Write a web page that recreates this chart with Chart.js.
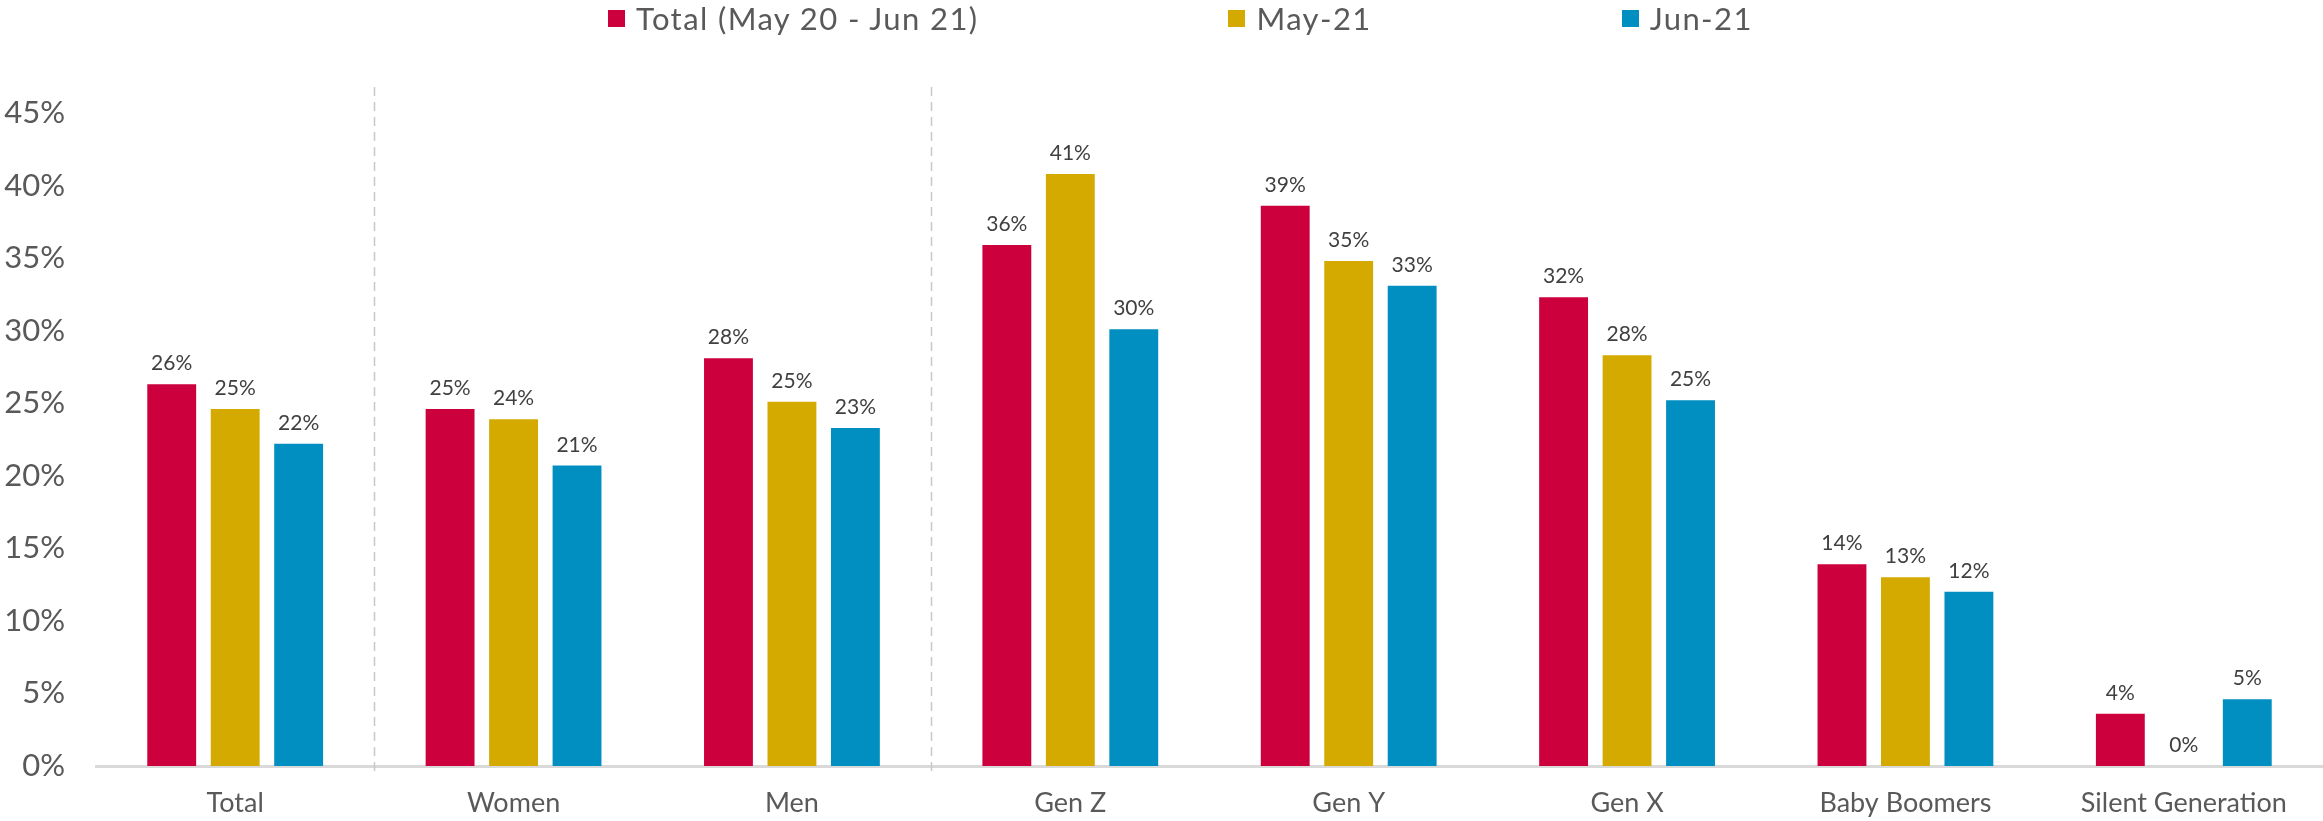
<!DOCTYPE html>
<html>
<head>
<meta charset="utf-8">
<script src="https://cdn.jsdelivr.net/npm/chart.js@4.4.1/dist/chart.umd.min.js"></script>
<style>
  html, body { margin: 0; padding: 0; background: #fff; }
  #wrap { position: relative; width: 2323px; height: 821px; }
  #legend { position: absolute; top: 0; left: 608px; display: flex; gap: 250px;
            font-family: Lato, sans-serif; font-size: 31px; letter-spacing: 1.4px; color: #595959; }
  .item { display: flex; align-items: center; height: 36px; white-space: nowrap; }
  .swatch { width: 17px; height: 17px; margin-right: 11px; }
  canvas { display: block; }
</style>
</head>
<body>
<div id="wrap">
  <canvas id="grafico" width="2323" height="821"></canvas>
  <div id="legend"></div>
</div>
<script>
// datos (en %)
var categories = ['Total', 'Women', 'Men', 'Gen Z', 'Gen Y', 'Gen X', 'Baby Boomers', 'Silent Generation'];
var seriesNames = ['Total (May 20 - Jun 21)', 'May-21', 'Jun-21'];
var totalValues = [26.3, 24.6, 28.1, 35.9, 38.6, 32.3, 13.9, 3.6];
var may21Values = [24.6, 23.9, 25.1, 40.8, 34.8, 28.3, 13.0, 0];
var jun21Values = [22.2, 20.7, 23.3, 30.1, 33.1, 25.2, 12.0, 4.6];
var seriesColors = ['#CC003D', '#D4AA00', '#008FC0'];
var dividerAfter = [0, 2]; // lineas punteadas despues de Total y de Men

// leyenda en html
var legendBox = document.getElementById('legend');
seriesNames.forEach(function (name, i) {
    var item = document.createElement('div');
    item.className = 'item';
    item.innerHTML = '<span class="swatch" style="background:' + seriesColors[i] + '"></span>' + name;
    legendBox.appendChild(item);
});

// separadores punteados entre grupos
var dividerPlugin = {
    id: 'dividers',
    beforeDatasetsDraw: function (chart) {
        var x = chart.scales.x, area = chart.chartArea, ctx = chart.ctx;
        ctx.save();
        ctx.strokeStyle = '#C8C8C8';
        ctx.lineWidth = 1.5;
        ctx.setLineDash([9, 6]);
        dividerAfter.forEach(function (i) {
            var px = Math.round((x.getPixelForValue(i) + x.getPixelForValue(i + 1)) / 2) + 0.5;
            ctx.beginPath();
            ctx.moveTo(px, area.top - 26);
            ctx.lineTo(px, area.bottom + 6);
            ctx.stroke();
        });
        ctx.restore();
    }
};

// etiquetas de valor encima de cada barra
var valueLabelPlugin = {
    id: 'valueLabels',
    afterDatasetsDraw: function (chart) {
        var ctx = chart.ctx;
        ctx.save();
        ctx.font = '21px Lato';
        ctx.fillStyle = '#404040';
        ctx.textAlign = 'center';
        ctx.textBaseline = 'alphabetic';
        chart.data.datasets.forEach(function (ds, di) {
            chart.getDatasetMeta(di).data.forEach(function (bar, i) {
                ctx.fillText(Math.round(ds.data[i]) + '%', bar.x, bar.y - 14);
            });
        });
        ctx.restore();
    }
};

var ctx = document.getElementById('grafico').getContext('2d');
var grafico = new Chart(ctx, {
    type: 'bar',
    data: {
        labels: categories,
        datasets: [totalValues, may21Values, jun21Values].map(function (vals, i) {
            return {
                label: seriesNames[i],
                data: vals,
                backgroundColor: seriesColors[i],
                categoryPercentage: 0.684,
                barPercentage: 0.77
            };
        })
    },
    options: {
        responsive: false,
        animation: false,
        layout: { padding: { top: 113, left: 0, right: 0, bottom: 0 } },
        plugins: {
            legend: { display: false },
            tooltip: { enabled: false }
        },
        scales: {
            x: {
                grid: { display: false, drawTicks: false },
                border: { color: '#D9D9D9', width: 3 },
                ticks: { color: '#595959', font: { family: 'Lato', size: 27 }, padding: 21 },
                afterFit: function (scale) { scale.height = 55; }
            },
            y: {
                min: 0,
                max: 45,
                grid: { display: false, drawTicks: false },
                border: { display: false },
                ticks: {
                    stepSize: 5,
                    padding: 31,
                    color: '#595959',
                    font: { family: 'Lato', size: 31 },
                    callback: function (v) { return v + '%'; }
                },
                afterFit: function (scale) { scale.width = 96; }
            }
        }
    },
    plugins: [dividerPlugin, valueLabelPlugin]
});
</script>
</body>
</html>
